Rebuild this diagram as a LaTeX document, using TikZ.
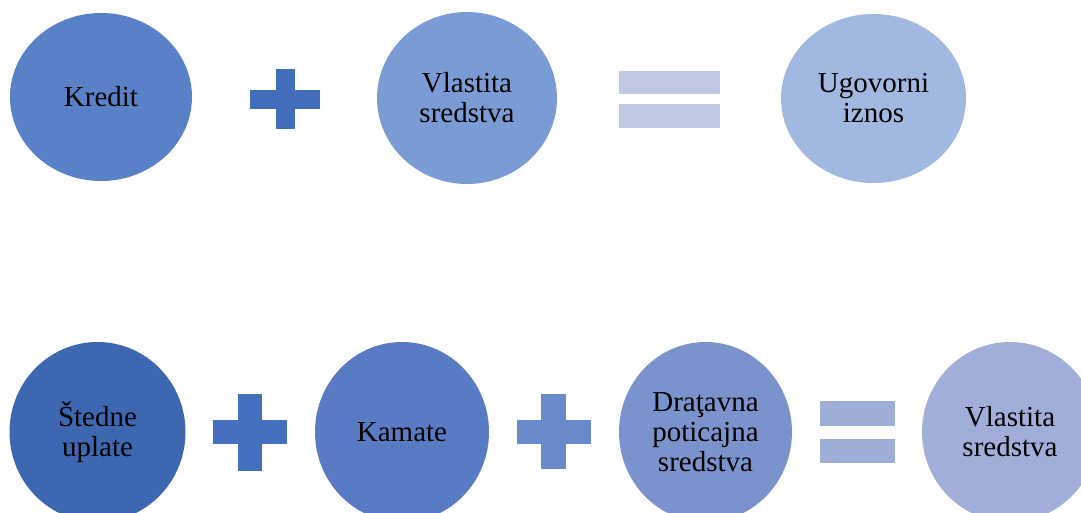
\documentclass[tikz,border=0pt]{standalone}
\usepackage{fontspec}
\setmainfont{Liberation Serif}
\usetikzlibrary{shapes.geometric}
\definecolor{cKredit}{HTML}{5981C7}
\definecolor{cPlusA}{HTML}{416DBA}
\definecolor{cVlastA}{HTML}{7B9BD4}
\definecolor{cEqA}{HTML}{C0C9E4}
\definecolor{cUgov}{HTML}{A1B8E1}
\definecolor{cSted}{HTML}{3D67B0}
\definecolor{cPlusB}{HTML}{4470BD}
\definecolor{cKam}{HTML}{587BC4}
\definecolor{cPlusC}{HTML}{6A8BCB}
\definecolor{cDrz}{HTML}{7A93CC}
\definecolor{cEqB}{HTML}{9FADD9}
\definecolor{cVlastB}{HTML}{A0AED9}
\tikzset{
  blob/.style={ellipse, draw=none, inner sep=0pt, align=center,
    font=\fontsize{29}{30}\selectfont, text=black},
  bar/.style={rectangle, draw=none, inner sep=0pt},
}
\begin{document}
\begin{tikzpicture}[x=1pt,y=-1pt]
\useasboundingbox (0,0) rectangle (1081,512);
\clip (0,0) rectangle (1081,512);
\fill[white] (0,0) rectangle (1081,512);
% top row
\node[blob, fill=cKredit, minimum width=182pt, minimum height=168pt] (kredit) at (101,97) {Kredit};
\node[bar, fill=cPlusA, minimum width=70pt, minimum height=19pt] (p1h) at (285,99.5) {};
\node[bar, fill=cPlusA, minimum width=19pt, minimum height=60pt] (p1v) at (285.5,99) {};
\node[blob, fill=cVlastA, minimum width=180pt, minimum height=172pt] (vlast1) at (467,98) {Vlastita\\sredstva};
\node[bar, fill=cEqA, minimum width=101pt, minimum height=23pt] (e1a) at (669.5,82.5) {};
\node[bar, fill=cEqA, minimum width=101pt, minimum height=24pt] (e1b) at (669.5,116) {};
\node[blob, fill=cUgov, minimum width=185pt, minimum height=169pt] (ugov) at (873.5,98.5) {Ugovorni\\iznos};
% bottom row
\node[blob, fill=cSted, minimum width=176pt, minimum height=180pt] (sted) at (97.5,432) {Štedne\\uplate};
\node[bar, fill=cPlusB, minimum width=74pt, minimum height=24pt] (p2h) at (250,432) {};
\node[bar, fill=cPlusB, minimum width=24pt, minimum height=77pt] (p2v) at (250,432.5) {};
\node[blob, fill=cKam, minimum width=174pt, minimum height=180pt] (kam) at (402,432) {Kamate};
\node[bar, fill=cPlusC, minimum width=74pt, minimum height=24pt] (p3h) at (554,432) {};
\node[bar, fill=cPlusC, minimum width=25pt, minimum height=75pt] (p3v) at (553.5,431) {};
\node[blob, fill=cDrz, minimum width=173pt, minimum height=180pt] (drz) at (705.5,432) {Draţavna\\poticajna\\sredstva};
\node[bar, fill=cEqB, minimum width=75pt, minimum height=25pt] (e2a) at (857.5,413.5) {};
\node[bar, fill=cEqB, minimum width=75pt, minimum height=24pt] (e2b) at (857.5,451) {};
\node[blob, fill=cVlastB, minimum width=176pt, minimum height=180pt] (vlast2) at (1010,432) {Vlastita\\sredstva};
\end{tikzpicture}
\end{document}
